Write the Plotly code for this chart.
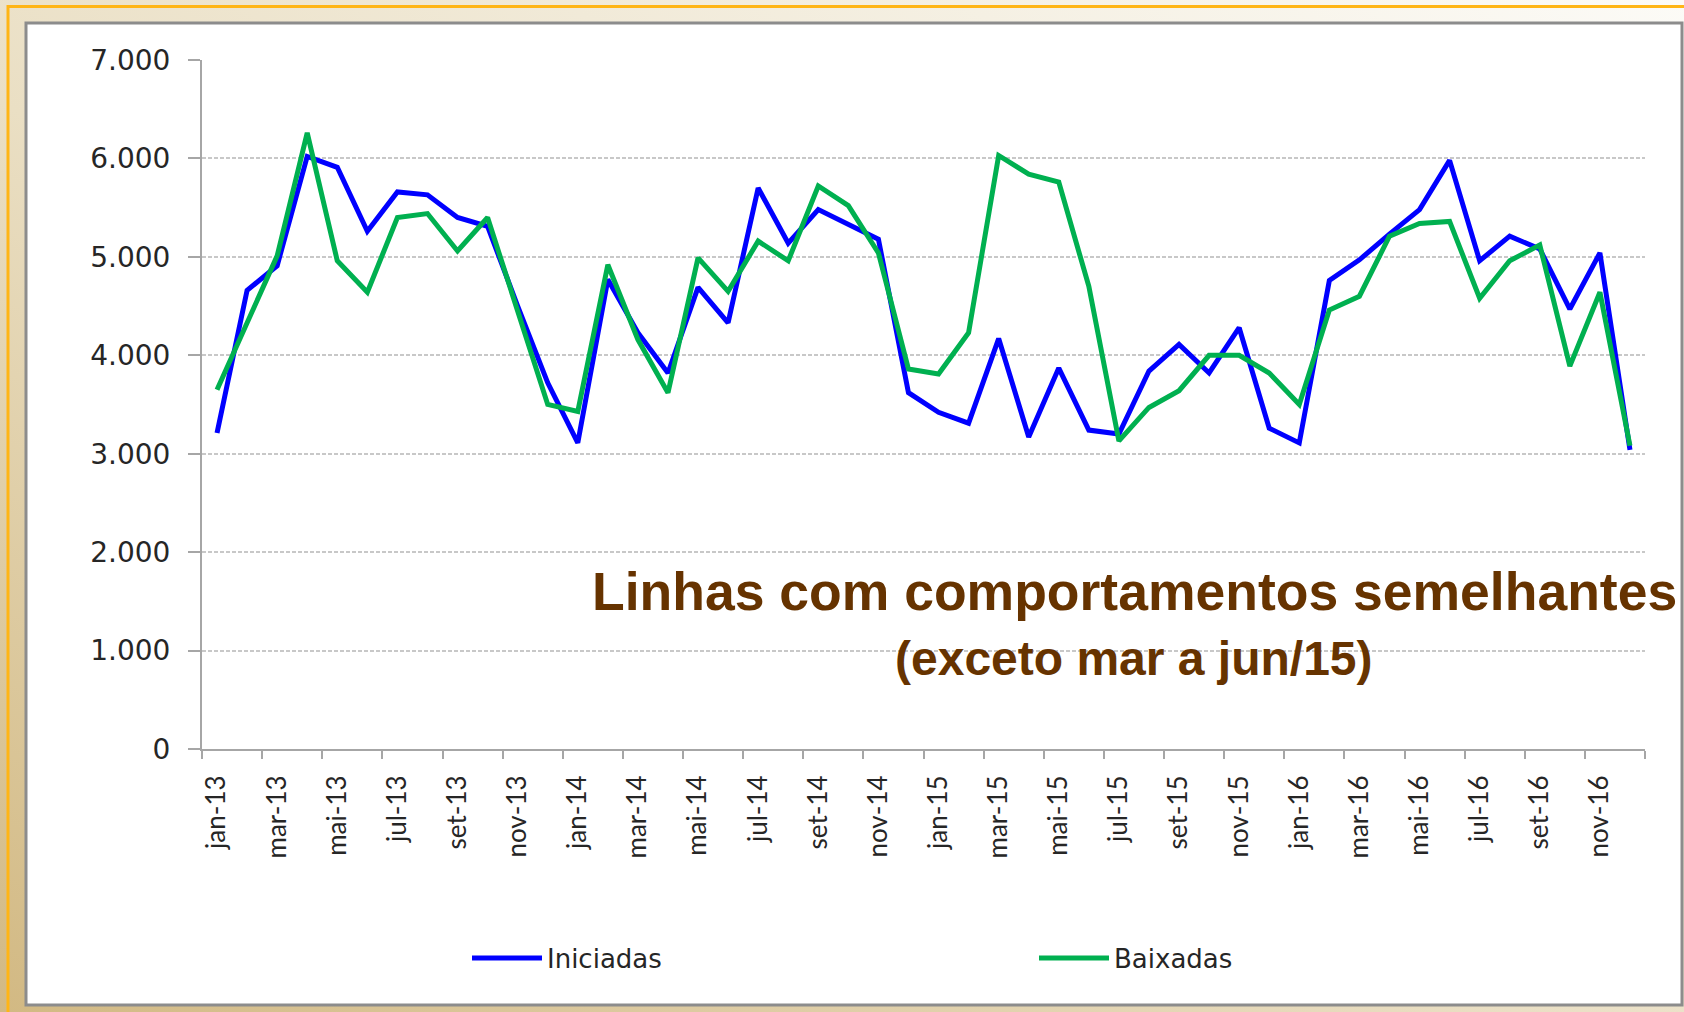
import base64
import plotly.graph_objects as go

# ---------------- data ----------------
months = [
    "jan-13", "fev-13", "mar-13", "abr-13", "mai-13", "jun-13", "jul-13", "ago-13", "set-13", "out-13", "nov-13", "dez-13",
    "jan-14", "fev-14", "mar-14", "abr-14", "mai-14", "jun-14", "jul-14", "ago-14", "set-14", "out-14", "nov-14", "dez-14",
    "jan-15", "fev-15", "mar-15", "abr-15", "mai-15", "jun-15", "jul-15", "ago-15", "set-15", "out-15", "nov-15", "dez-15",
    "jan-16", "fev-16", "mar-16", "abr-16", "mai-16", "jun-16", "jul-16", "ago-16", "set-16", "out-16", "nov-16", "dez-16",
]
iniciadas = [
    3210, 4660, 4910, 6020, 5910, 5260, 5660, 5630, 5400, 5310, 4500, 3720,
    3110, 4770, 4230, 3820, 4690, 4330, 5700, 5140, 5480, 5330, 5180, 3620,
    3420, 3310, 4170, 3170, 3870, 3240, 3200, 3840, 4110, 3820, 4280, 3260,
    3110, 4760, 4970, 5230, 5480, 5980, 4960, 5210, 5080, 4470, 5040, 3040,
]
baixadas = [
    3650, 4330, 5010, 6260, 4960, 4640, 5400, 5440, 5060, 5400, 4450, 3500,
    3430, 4920, 4160, 3620, 4990, 4650, 5160, 4960, 5720, 5520, 5040, 3860,
    3810, 4230, 6030, 5840, 5760, 4700, 3130, 3470, 3640, 4000, 4000, 3820,
    3500, 4460, 4600, 5210, 5340, 5360, 4580, 4960, 5120, 3890, 4640, 3080,
]
series_names = ["Iniciadas", "Baixadas"]
y_ticks = [0, 1000, 2000, 3000, 4000, 5000, 6000, 7000]
note_line1 = "Linhas com comportamentos semelhantes"
note_line2 = "(exceto mar a jun/15)"

# ---------------- geometry helpers ----------------
W, H = 1684, 1012
L, R, T, B = 202, 1645, 60, 749


def px(x):
    return (x - L) / (R - L)


def py(y):
    return (B - y) / (B - T)


x_idx = list(range(len(months)))
label_idx = x_idx[::2]
boundaries = [i - 0.5 for i in range(0, len(months) + 1, 2)]

fig = go.Figure()
fig.add_trace(go.Scatter(x=x_idx, y=iniciadas, mode="lines", name=series_names[0],
                         line=dict(color="#0000FF", width=5), legend="legend"))
fig.add_trace(go.Scatter(x=x_idx, y=baixadas, mode="lines", name=series_names[1],
                         line=dict(color="#00B050", width=5), legend="legend2"))

# background gradient via svg
svg = (
    '<svg xmlns="http://www.w3.org/2000/svg" width="100" height="100" preserveAspectRatio="none" viewBox="0 0 100 100">'
    '<defs><linearGradient id="g" x1="0" y1="1" x2="1" y2="0">'
    '<stop offset="0" stop-color="#D2B983"/>'
    '<stop offset="0.45" stop-color="#EADFC4"/>'
    '<stop offset="1" stop-color="#FCFBF7"/>'
    '</linearGradient></defs>'
    '<rect width="100" height="100" fill="url(#g)"/></svg>'
)
svg_uri = "data:image/svg+xml;base64," + base64.b64encode(svg.encode()).decode()

legend_font = dict(family="DejaVu Sans", size=26, color="#262626")
legend_common = dict(orientation="h", xanchor="left", yanchor="middle", y=py(958),
                     itemwidth=70, font=legend_font,
                     bgcolor="rgba(0,0,0,0)", borderwidth=0)

fig.update_layout(
    width=W, height=H,
    margin=dict(l=L, r=W - R, t=T, b=H - B, pad=0),
    paper_bgcolor="#EDE3C8",
    plot_bgcolor="rgba(0,0,0,0)",
    separators=",.",
    showlegend=True,
    legend=dict(x=px(467), **legend_common),
    legend2=dict(x=px(1034), **legend_common),
    images=[dict(
        source=svg_uri, xref="paper", yref="paper",
        x=px(0), y=py(0), sizex=W / (R - L), sizey=H / (B - T),
        xanchor="left", yanchor="top", sizing="stretch", layer="below",
    )],
    shapes=[
        dict(type="rect", xref="paper", yref="paper", layer="below",
             x0=px(26), x1=px(1682), y0=py(1005), y1=py(23),
             fillcolor="white", line=dict(color="#8C8C8C", width=3)),
        dict(type="line", xref="paper", yref="paper", layer="below",
             x0=px(7), x1=px(W), y0=py(6.5), y1=py(6.5),
             line=dict(color="#FFB515", width=3)),
        dict(type="line", xref="paper", yref="paper", layer="below",
             x0=px(8), x1=px(8), y0=py(5), y1=py(H),
             line=dict(color="#FFB515", width=3)),
    ],
    annotations=[
        dict(text=note_line1, xref="paper", yref="paper", x=px(1134), y=py(591),
             xanchor="center", yanchor="middle", showarrow=False,
             font=dict(family="Liberation Sans", size=53.5, color="#663300", weight="bold")),
        dict(text=note_line2, xref="paper", yref="paper", x=px(1134), y=py(658.5),
             xanchor="center", yanchor="middle", showarrow=False,
             font=dict(family="Liberation Sans", size=48, color="#663300", weight="bold")),
    ],
)

fig.update_xaxes(
    range=[-0.5, len(months) - 0.5],
    tickmode="array", tickvals=label_idx, ticktext=[months[i] for i in label_idx],
    tickangle=-90, ticks="", ticklabelstandoff=14,
    tickfont=dict(family="Lato", size=26, color="#262626"),
    showgrid=False, zeroline=False,
    showline=True, linecolor="#A6A6A6", linewidth=2,
    minor=dict(tickmode="array", tickvals=boundaries, ticks="outside",
               ticklen=8, tickcolor="#A6A6A6", tickwidth=2, showgrid=False),
)
fig.update_yaxes(
    range=[0, 7000],
    tickmode="array", tickvals=y_ticks, tickformat=",.0f",
    ticks="outside", ticklen=12, tickcolor="#A6A6A6", tickwidth=2,
    ticklabelstandoff=12,
    tickfont=dict(family="DejaVu Sans", size=28, color="#262626"),
    showgrid=True, gridcolor="#C8C8C8", gridwidth=1.5, griddash="4px,2px",
    zeroline=False,
    showline=True, linecolor="#A6A6A6", linewidth=2,
)

fig.write_html("out.html", config={"displayModeBar": False},
               post_script="document.body.style.margin='0px';")
